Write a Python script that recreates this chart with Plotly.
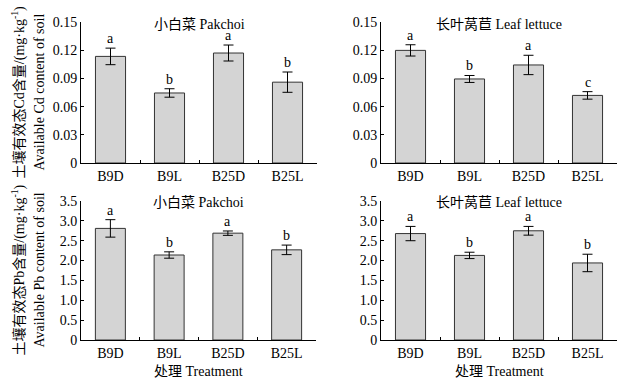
import plotly.graph_objects as go

W, H = 640, 385

categories = ["B9D", "B9L", "B25D", "B25L"]

cd_pakchoi = [0.1134, 0.0745, 0.1170, 0.0860]
cd_pakchoi_err = [0.0088, 0.0045, 0.0085, 0.0108]
cd_pakchoi_letters = ["a", "b", "a", "b"]

cd_lettuce = [0.1198, 0.0894, 0.1043, 0.0719]
cd_lettuce_err = [0.0060, 0.0037, 0.0103, 0.0040]
cd_lettuce_letters = ["a", "b", "a", "c"]

pb_pakchoi = [2.81, 2.14, 2.69, 2.27]
pb_pakchoi_err = [0.22, 0.08, 0.055, 0.12]
pb_pakchoi_letters = ["a", "b", "a", "b"]

pb_lettuce = [2.68, 2.13, 2.75, 1.94]
pb_lettuce_err = [0.18, 0.08, 0.11, 0.22]
pb_lettuce_letters = ["a", "b", "a", "b"]

cd_ticks = [0, 0.03, 0.06, 0.09, 0.12, 0.15]
cd_ticktext = ["0", "0.03", "0.06", "0.09", "0.12", "0.15"]
pb_ticks = [0, 0.5, 1.0, 1.5, 2.0, 2.5, 3.0, 3.5]
pb_ticktext = ["0", "0.5", "1.0", "1.5", "2.0", "2.5", "3.0", "3.5"]

title_pakchoi = "小白菜 Pakchoi"
title_lettuce = "长叶莴苣 Leaf lettuce"
ytitle_cd_cn = "土壤有效态Cd含量/(mg·kg<sup>-1</sup>)"
ytitle_cd_en = "Available Cd content of soil"
ytitle_pb_cn = "土壤有效态Pb含量/(mg·kg<sup>-1</sup>)"
ytitle_pb_en = "Available Pb content of soil"
xtitle = "处理 Treatment"

FONT = "Liberation Serif, Noto Sans CJK SC, serif"

def px(x):
    return x / W

def py(y):
    return 1 - y / H

# panel pixel boxes: (x0, x1, ytop, ybottom)
panels = [
    (81, 317, 22, 163),
    (381, 617, 22, 163),
    (81, 316, 201, 340),
    (381, 617, 201, 340),
]

data_sets = [
    (cd_pakchoi, cd_pakchoi_err, cd_pakchoi_letters, [0, 0.15], cd_ticks, cd_ticktext, title_pakchoi),
    (cd_lettuce, cd_lettuce_err, cd_lettuce_letters, [0, 0.15], cd_ticks, cd_ticktext, title_lettuce),
    (pb_pakchoi, pb_pakchoi_err, pb_pakchoi_letters, [0, 3.5], pb_ticks, pb_ticktext, title_pakchoi),
    (pb_lettuce, pb_lettuce_err, pb_lettuce_letters, [0, 3.5], pb_ticks, pb_ticktext, title_lettuce),
]

fig = go.Figure()
layout = dict(
    template="none",
    width=W, height=H, autosize=False,
    margin=dict(l=0, r=0, t=0, b=0, pad=0, autoexpand=False),
    paper_bgcolor="white", plot_bgcolor="white",
    showlegend=False, bargap=0.49,
    font=dict(family=FONT, size=14, color="black"),
)
annotations = []

for i, ((vals, errs, letters, yr, tv, tt, title), (x0, x1, yt, yb)) in enumerate(zip(data_sets, panels)):
    n = "" if i == 0 else str(i + 1)
    xa, ya = "x" + n, "y" + n
    fig.add_trace(go.Bar(
        x=categories, y=vals, xaxis=xa, yaxis=ya,
        marker=dict(color="#d4d4d4", line=dict(color="#333333", width=1)),
        error_y=dict(type="data", array=errs, visible=True, color="black", thickness=1, width=5),
        hoverinfo="skip",
    ))
    layout["xaxis" + n] = dict(
        domain=[px(x0), px(x1)], anchor=ya, type="category", automargin=False,
        showline=True, linecolor="black", linewidth=1,
        ticks="inside", tickson="boundaries", ticklen=3, tickcolor="black",
        showgrid=False, zeroline=False, range=[-0.5, 3.5],
        tickfont=dict(family=FONT, size=14, color="black"),
    )
    layout["yaxis" + n] = dict(
        domain=[py(yb), py(yt)], anchor=xa, range=yr, automargin=False,
        showline=True, linecolor="black", linewidth=1,
        ticks="inside", ticklen=3, tickcolor="black",
        tickvals=tv, ticktext=tt,
        showgrid=False, zeroline=False,
        tickfont=dict(family=FONT, size=14, color="black"),
    )
    for c, v, e, l in zip(categories, vals, errs, letters):
        annotations.append(dict(
            x=c, y=v + e, xref=xa, yref=ya, text=l, showarrow=False,
            yanchor="bottom", yshift=0, font=dict(family=FONT, size=14, color="black"),
        ))
    cx = (x0 + x1) / 2
    annotations.append(dict(
        x=px(cx), y=py(yt + 2), xref="paper", yref="paper", text=title,
        showarrow=False, xanchor="center", yanchor="middle",
        font=dict(family=FONT, size=14, color="black"),
    ))
    if i >= 2:
        annotations.append(dict(
            x=px(cx), y=py(371), xref="paper", yref="paper", text=xtitle,
            showarrow=False, xanchor="center", yanchor="middle",
            font=dict(family=FONT, size=14, color="black"),
        ))
    if i in (0, 2):
        cn = ytitle_cd_cn if i == 0 else ytitle_pb_cn
        en = ytitle_cd_en if i == 0 else ytitle_pb_en
        cy = (yt + yb) / 2
        annotations.append(dict(
            x=px(19), y=py(cy), xref="paper", yref="paper", text=cn,
            showarrow=False, xanchor="center", yanchor="middle", textangle=-90,
            font=dict(family=FONT, size=14, color="black"),
        ))
        annotations.append(dict(
            x=px(39), y=py(cy), xref="paper", yref="paper", text=en,
            showarrow=False, xanchor="center", yanchor="middle", textangle=-90,
            font=dict(family=FONT, size=14, color="black"),
        ))

layout["annotations"] = annotations
fig.update_layout(**layout)
fig.write_html(
    "out.html",
    config={"displayModeBar": False},
    post_script="document.body.style.margin='0';document.body.style.padding='0';document.body.style.overflow='hidden';",
)
